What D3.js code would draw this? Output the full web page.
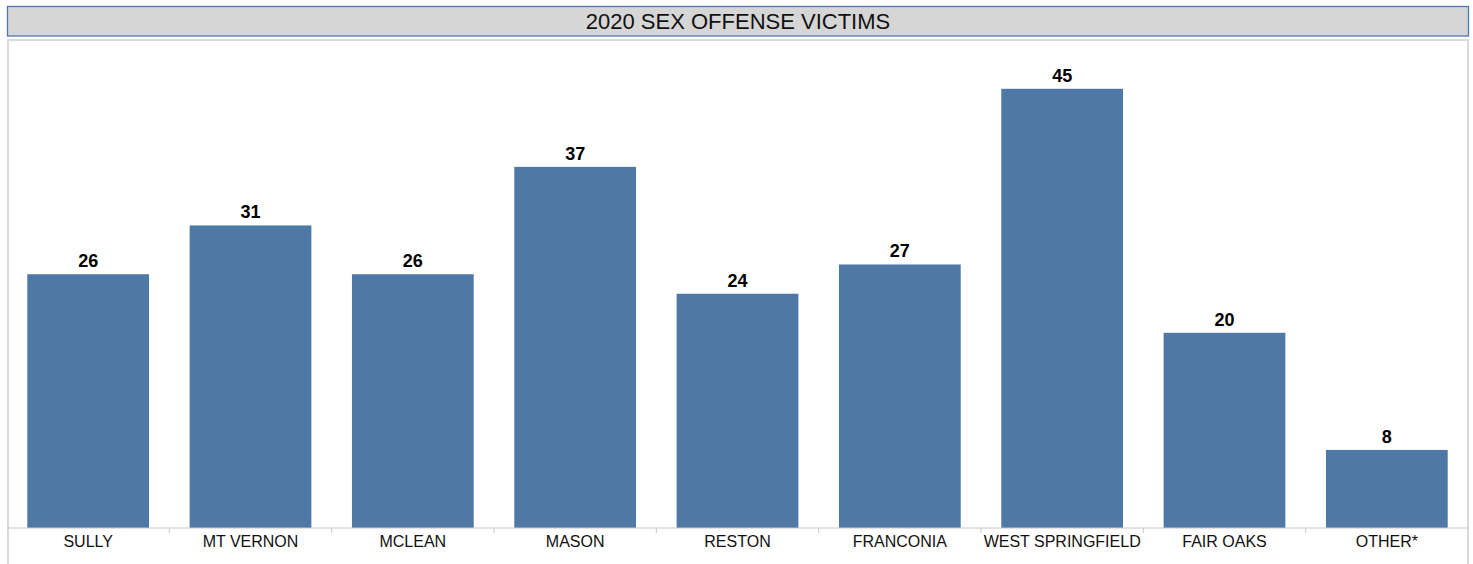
<!DOCTYPE html>
<html>
<head>
<meta charset="utf-8">
<script src="https://cdn.jsdelivr.net/npm/d3@7"></script>
<style>
  body { margin: 0; background: #fff; }
  svg text { font-family: Arial, "Liberation Sans", sans-serif; }
</style>
</head>
<body>
<div id="chart"></div>
<script>
// data
var categories = ["SULLY", "MT VERNON", "MCLEAN", "MASON", "RESTON", "FRANCONIA", "WEST SPRINGFIELD", "FAIR OAKS", "OTHER*"];
var victims = [26, 31, 26, 37, 24, 27, 45, 20, 8];
var chartTitle = "2020 SEX OFFENSE VICTIMS";

var width = 1473, height = 564;
var plotLeft = 7, plotRight = 1468, plotTop = 40, baseY = 528;

var svg = d3.select("#chart")
    .append("svg")
    .attr("width", width)
    .attr("height", height);

// title box
svg.append("rect")
    .attr("x", 7.5).attr("y", 6.5)
    .attr("width", 1461).attr("height", 29.5)
    .attr("fill", "#d6d6d6")
    .attr("stroke", "#4a78b2")
    .attr("stroke-width", 1.3);

svg.append("text")
    .attr("x", 738).attr("y", 28.5)
    .attr("text-anchor", "middle")
    .attr("font-size", "22px")
    .attr("fill", "#111")
    .text(chartTitle);

// panel border
svg.append("path")
    .attr("d", "M" + (plotLeft + 1) + "," + (height + 2) + "V" + plotTop + "H" + plotRight + "V" + (height + 2))
    .attr("fill", "none")
    .attr("stroke", "#dadada")
    .attr("stroke-width", 2);

var xScale = d3.scaleBand()
    .domain(categories)
    .range([plotLeft, plotRight])
    .paddingInner(0.25)
    .paddingOuter(0.125);

var bandScale = d3.scaleBand()
    .domain(categories)
    .range([plotLeft, plotRight]);

var yScale = d3.scaleLinear()
    .domain([0, 50])
    .range([baseY, plotTop]);

// bars
svg.selectAll(".bar")
    .data(victims)
    .enter().append("rect")
    .attr("class", "bar")
    .attr("x", function (d, i) { return xScale(categories[i]); })
    .attr("y", function (d) { return yScale(d); })
    .attr("width", xScale.bandwidth())
    .attr("height", function (d) { return baseY - yScale(d); })
    .attr("fill", "#4e79a7");

// value labels
svg.selectAll(".val")
    .data(victims)
    .enter().append("text")
    .attr("class", "val")
    .attr("x", function (d, i) { return xScale(categories[i]) + xScale.bandwidth() / 2; })
    .attr("y", function (d) { return yScale(d) - 7; })
    .attr("text-anchor", "middle")
    .attr("font-size", "18px")
    .attr("font-weight", "bold")
    .attr("fill", "#000")
    .text(function (d) { return d; });

// x axis
var axis = svg.append("g")
    .attr("transform", "translate(0," + baseY + ")");

axis.append("line")
    .attr("x1", plotLeft).attr("x2", plotRight)
    .attr("stroke", "#c8c8c8")
    .attr("stroke-width", 1);

// tick marks between bands
axis.selectAll(".sep")
    .data(categories.slice(1))
    .enter().append("line")
    .attr("class", "sep")
    .attr("x1", function (d) { return bandScale(d); })
    .attr("x2", function (d) { return bandScale(d); })
    .attr("y1", 0).attr("y2", 5)
    .attr("stroke", "#c8c8c8");

axis.selectAll(".lbl")
    .data(categories)
    .enter().append("text")
    .attr("class", "lbl")
    .attr("x", function (d) { return bandScale(d) + bandScale.bandwidth() / 2; })
    .attr("y", 19)
    .attr("text-anchor", "middle")
    .attr("font-size", "16px")
    .attr("fill", "#111")
    .text(function (d) { return d; });
</script>
</body>
</html>
